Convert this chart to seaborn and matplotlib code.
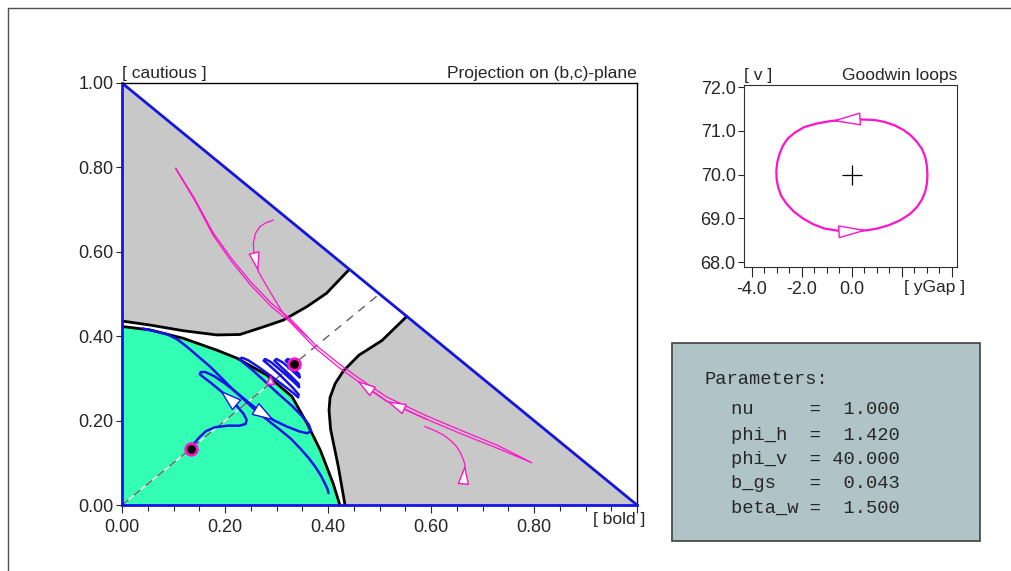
import matplotlib
matplotlib.use('Agg')
import matplotlib.pyplot as plt
import seaborn as sns
import pandas as pd
from matplotlib.patches import Rectangle
from matplotlib.lines import Line2D
from matplotlib.ticker import MultipleLocator, FixedLocator, FormatStrFormatter

# ---- values ----
# region borders in the (b,c)-plane
green_edge_b = [0.0, 0.054, 0.119, 0.184, 0.223, 0.281, 0.330, 0.359, 0.385, 0.410, 0.423]
green_edge_c = [0.423, 0.415, 0.395, 0.367, 0.348, 0.308, 0.257, 0.194, 0.130, 0.051, 0.0]
upper_edge_b = [0.0, 0.054, 0.119, 0.184, 0.229, 0.272, 0.313, 0.359, 0.397, 0.4415]
upper_edge_c = [0.436, 0.4265, 0.413, 0.403, 0.404, 0.421, 0.438, 0.470, 0.5016, 0.5585]
right_edge_b = [0.553, 0.505, 0.460, 0.430, 0.414, 0.404, 0.402, 0.405, 0.410, 0.420, 0.433]
right_edge_c = [0.447, 0.390, 0.355, 0.318, 0.288, 0.255, 0.225, 0.180, 0.150, 0.091, 0.0]
diag_end = 0.5

# blue trajectories
b1_b = [0.040, 0.060, 0.087, 0.108, 0.126, 0.148, 0.171, 0.194, 0.216, 0.240, 0.262, 0.285,
        0.307, 0.328, 0.346, 0.362, 0.375, 0.386, 0.394, 0.399, 0.401]
b1_c = [0.418, 0.413, 0.405, 0.392, 0.375, 0.352, 0.328, 0.300, 0.273, 0.246, 0.221, 0.199,
        0.178, 0.157, 0.134, 0.112, 0.091, 0.070, 0.051, 0.038, 0.028]
b2_b = [0.134, 0.140, 0.150, 0.163, 0.180, 0.205, 0.228, 0.240, 0.242, 0.236,
        0.222, 0.205, 0.190, 0.172, 0.158, 0.151, 0.153, 0.162, 0.178,
        0.200, 0.225, 0.255, 0.280, 0.296, 0.320, 0.345, 0.360, 0.367, 0.363,
        0.350, 0.330, 0.305, 0.280, 0.255, 0.235, 0.228, 0.233, 0.245,
        0.265, 0.290, 0.315, 0.333, 0.342, 0.343,
        0.330, 0.305, 0.285, 0.275, 0.278, 0.290, 0.315, 0.335, 0.344, 0.343, 0.325, 0.303,
        0.296, 0.300, 0.312, 0.332, 0.345, 0.344, 0.328, 0.318, 0.322, 0.335, 0.345, 0.340,
        0.334]
b2_c = [0.133, 0.146, 0.160, 0.175, 0.184, 0.188, 0.188, 0.192, 0.202, 0.216,
        0.236, 0.256, 0.272, 0.290, 0.303, 0.310, 0.315, 0.315, 0.306,
        0.288, 0.264, 0.234, 0.212, 0.200, 0.186, 0.174, 0.170, 0.176, 0.190,
        0.210, 0.235, 0.262, 0.290, 0.318, 0.338, 0.346, 0.349, 0.343,
        0.327, 0.305, 0.282, 0.265, 0.255, 0.262,
        0.280, 0.310, 0.332, 0.342, 0.346, 0.338, 0.312, 0.290, 0.279, 0.287, 0.309, 0.334,
        0.342, 0.346, 0.338, 0.317, 0.302, 0.310, 0.330, 0.342, 0.346, 0.338, 0.325, 0.333,
        0.333]
b2_arrows = [12, 23]

# magenta trajectories
m1_b = [0.104, 0.140, 0.177, 0.212, 0.249, 0.290, 0.326, 0.375, 0.423, 0.456, 0.514, 0.590,
        0.656, 0.730, 0.796,
        0.730, 0.656, 0.590, 0.514, 0.456, 0.423, 0.375, 0.326, 0.290, 0.249, 0.212, 0.177,
        0.142, 0.104]
m1_c = [0.798, 0.728, 0.645, 0.585, 0.530, 0.478, 0.442, 0.380, 0.333, 0.304, 0.256, 0.212,
        0.178, 0.141, 0.100,
        0.134, 0.170, 0.204, 0.246, 0.295, 0.324, 0.372, 0.434, 0.470, 0.522, 0.578, 0.639,
        0.720, 0.798]
m1_arrows = [18, 19]
m2_b = [0.294, 0.280, 0.268, 0.259, 0.255, 0.256, 0.2647, 0.278, 0.295, 0.313, 0.336, 0.359]
m2_c = [0.675, 0.669, 0.660, 0.643, 0.620, 0.600, 0.553, 0.525, 0.490, 0.454, 0.425, 0.399]
m2_arrows = [6]
m3_b = [0.656, 0.664, 0.666, 0.663, 0.657, 0.650, 0.638, 0.624, 0.606, 0.588]
m3_c = [0.051, 0.066, 0.095, 0.107, 0.124, 0.138, 0.153, 0.166, 0.177, 0.186]
m3_arrows = [2]

eq_b = [0.134, 0.334]
eq_c = [0.133, 0.333]
mark_b = [0.288]
mark_c = [0.296]

# Goodwin loop (yGap, v)
gw_x = [0.0, -0.8, -1.4, -1.89, -2.25, -2.55, -2.75, -2.88, -2.97, -3.01, -3.0, -2.94, -2.82,
        -2.61, -2.32, -1.95, -1.55, -1.10, -0.55, -0.04, 0.62, 1.02, 1.50, 1.94, 2.32, 2.60,
        2.80, 2.93, 3.0, 3.02, 3.0, 2.93, 2.80, 2.60, 2.35, 2.07, 1.70, 1.28, 0.90, 0.49, 0.0]
gw_y = [71.26, 71.23, 71.17, 71.09, 70.97, 70.83, 70.66, 70.48, 70.29, 70.10, 69.90, 69.72,
        69.52, 69.34, 69.16, 69.00, 68.87, 68.77, 68.72, 68.71, 68.73, 68.77, 68.85, 68.96,
        69.10, 69.26, 69.43, 69.61, 69.80, 69.99, 70.20, 70.41, 70.59, 70.75, 70.90, 71.02,
        71.13, 71.21, 71.25, 71.26, 71.26]
gw_arrows = [1, 20]
gw_center = (0.0, 70.0)

param_names = ['nu', 'phi_h', 'phi_v', 'b_gs', 'beta_w']
param_values = ['1.000', '1.420', '40.000', '0.043', '1.500']

GREEN = '#33ffb4'
GRAY = '#c8c8c8'
BLUE = '#1414e6'
MAGENTA = '#ff14c8'

sns.set_style('ticks')
plt.rcParams['font.family'] = ['Liberation Sans', 'DejaVu Sans']
plt.rcParams['font.size'] = 12.5


def head(ax, xs, ys, i, color, scale=12, hl=1.0, hw=0.3):
    ax.annotate('', xy=(xs[i], ys[i]), xytext=(xs[i - 1], ys[i - 1]),
                arrowprops=dict(arrowstyle='-|>,head_length=%s,head_width=%s' % (hl, hw),
                                fc='white', ec=color, lw=1, shrinkA=0, shrinkB=0,
                                mutation_scale=scale))


def line(ax, xs, ys, color, lw, **kw):
    sns.lineplot(x=xs, y=ys, ax=ax, sort=False, estimator=None, color=color, lw=lw, **kw)


fig = plt.figure(figsize=(10.11, 5.71), dpi=100)

# outer frame
fig.add_artist(Line2D([8 / 1011, 8 / 1011], [0, 1 - 8 / 571], transform=fig.transFigure,
                      color='#505050', lw=1))
fig.add_artist(Line2D([8 / 1011, 1], [1 - 8 / 571, 1 - 8 / 571], transform=fig.transFigure,
                      color='#505050', lw=1))

# ---- main panel ----
ax = fig.add_axes([122 / 1011, 66 / 571, 515 / 1011, 422 / 571])
ax.set_xlim(0, 1)
ax.set_ylim(0, 1)

# regions
ax.fill([0] + green_edge_b, [0] + green_edge_c, color=GREEN, lw=0)
ax.fill([0] + upper_edge_b + [0], [1] + upper_edge_c + [1], color=GRAY, lw=0)
ax.fill(right_edge_b + [1], right_edge_c + [0], color=GRAY, lw=0)
line(ax, green_edge_b, green_edge_c, 'black', 2)
line(ax, upper_edge_b, upper_edge_c, 'black', 2)
line(ax, right_edge_b, right_edge_c, 'black', 2)

# diagonal
ax.plot([0, 0.29], [0, 0.29], color='white', lw=1)
ax.plot([0, diag_end], [0, diag_end], color='#606060', lw=1, dashes=(6, 5))

# simplex edge
line(ax, [0, 1], [1, 0], BLUE, 2)

# trajectories
line(ax, b1_b, b1_c, BLUE, 1.8)
line(ax, b2_b, b2_c, BLUE, 1.8)
for i in b2_arrows:
    head(ax, b2_b, b2_c, i, BLUE, scale=13, hl=1.1, hw=0.35)

for xs, ys, arr in [(m1_b, m1_c, m1_arrows), (m2_b, m2_c, m2_arrows), (m3_b, m3_c, m3_arrows)]:
    line(ax, xs, ys, MAGENTA, 0.9)
    for i in arr:
        head(ax, xs, ys, i, MAGENTA, scale=12, hl=1.0, hw=0.3)

sns.scatterplot(x=mark_b, y=mark_c, ax=ax, marker='^', s=30, color='white',
                edgecolor=MAGENTA, linewidth=1.2, zorder=5)
sns.scatterplot(x=eq_b, y=eq_c, ax=ax, s=70, color='black', edgecolor=MAGENTA,
                linewidth=2, zorder=6)

ax.xaxis.set_major_locator(MultipleLocator(0.2))
ax.xaxis.set_minor_locator(MultipleLocator(0.05))
ax.yaxis.set_major_locator(MultipleLocator(0.2))
ax.xaxis.set_major_formatter(lambda v, p: '%.2f' % v if v < 0.9 else '')
ax.yaxis.set_major_formatter(FormatStrFormatter('%.2f'))
ax.tick_params(axis='x', which='major', length=6, width=0.8, labelsize=13, pad=4)
ax.tick_params(axis='x', which='minor', length=4, width=0.8)
ax.tick_params(axis='y', which='major', length=4, width=0.8, labelsize=13, pad=2)
for side in ['left', 'bottom']:
    ax.spines[side].set_color(BLUE)
    ax.spines[side].set_linewidth(2)
for side in ['top', 'right']:
    ax.spines[side].set_color('black')
    ax.spines[side].set_linewidth(1)
ax.set_xlabel('')
ax.set_ylabel('')
ax.text(0.0, 1.005, '[ cautious ]', transform=ax.transAxes, ha='left', va='bottom')
ax.text(1.0, 1.005, 'Projection on (b,c)-plane', transform=ax.transAxes, ha='right',
        va='bottom')
ax.text(1.016, -0.035, '[ bold ]', transform=ax.transAxes, ha='right', va='center')

# ---- Goodwin panel ----
ax2 = fig.add_axes([744 / 1011, 304 / 571, 213 / 1011, 182 / 571])
line(ax2, gw_x, gw_y, MAGENTA, 1.6)
for i in gw_arrows:
    head(ax2, gw_x, gw_y, i, MAGENTA, scale=14, hl=1.3, hw=0.3)
ax2.plot([gw_center[0]], [gw_center[1]], marker='+', ms=14, mew=0.9, color='black')
ax2.set_xlim(-4.3, 4.2)
ax2.set_ylim(67.89, 72.05)
ax2.xaxis.set_major_locator(FixedLocator([-4, -2, 0, 2, 4]))
ax2.xaxis.set_major_formatter(lambda v, p: '%.1f' % v if v <= 0 else '')
ax2.xaxis.set_minor_locator(MultipleLocator(0.5))
ax2.yaxis.set_major_locator(MultipleLocator(1.0))
ax2.yaxis.set_major_formatter(FormatStrFormatter('%.1f'))
ax2.tick_params(axis='x', which='major', length=7, width=0.8, labelsize=13, pad=3)
ax2.tick_params(axis='x', which='minor', length=4, width=0.8)
ax2.tick_params(axis='y', which='major', length=4, width=0.8, labelsize=13, pad=2)
for side in ax2.spines:
    ax2.spines[side].set_color('#303030')
    ax2.spines[side].set_linewidth(0.8)
ax2.set_xlabel('')
ax2.set_ylabel('')
ax2.text(0.0, 1.01, '[ v ]', transform=ax2.transAxes, ha='left', va='bottom')
ax2.text(1.0, 1.01, 'Goodwin loops', transform=ax2.transAxes, ha='right', va='bottom')
ax2.text(1.04, -0.11, '[ yGap ]', transform=ax2.transAxes, ha='right', va='center')

# ---- parameter box ----
fig.add_artist(Rectangle((672 / 1011, 30 / 571), 308 / 1011, 198 / 571, transform=fig.transFigure,
                         fc='#b0c4c8', ec='#404040', lw=1.2))
mono = ['Liberation Mono', 'DejaVu Sans Mono']
fig.text(704 / 1011, 1 - 380 / 571, 'Parameters:', family=mono, fontsize=13.5, va='center')
rows_y = [410, 435, 460, 484, 508]
for name, val, py in zip(param_names, param_values, rows_y):
    fig.text(731 / 1011, 1 - py / 571, name.ljust(7) + '=' + val.rjust(7), family=mono,
             fontsize=13.5, va='center')

fig.savefig('out.png', dpi=100)
